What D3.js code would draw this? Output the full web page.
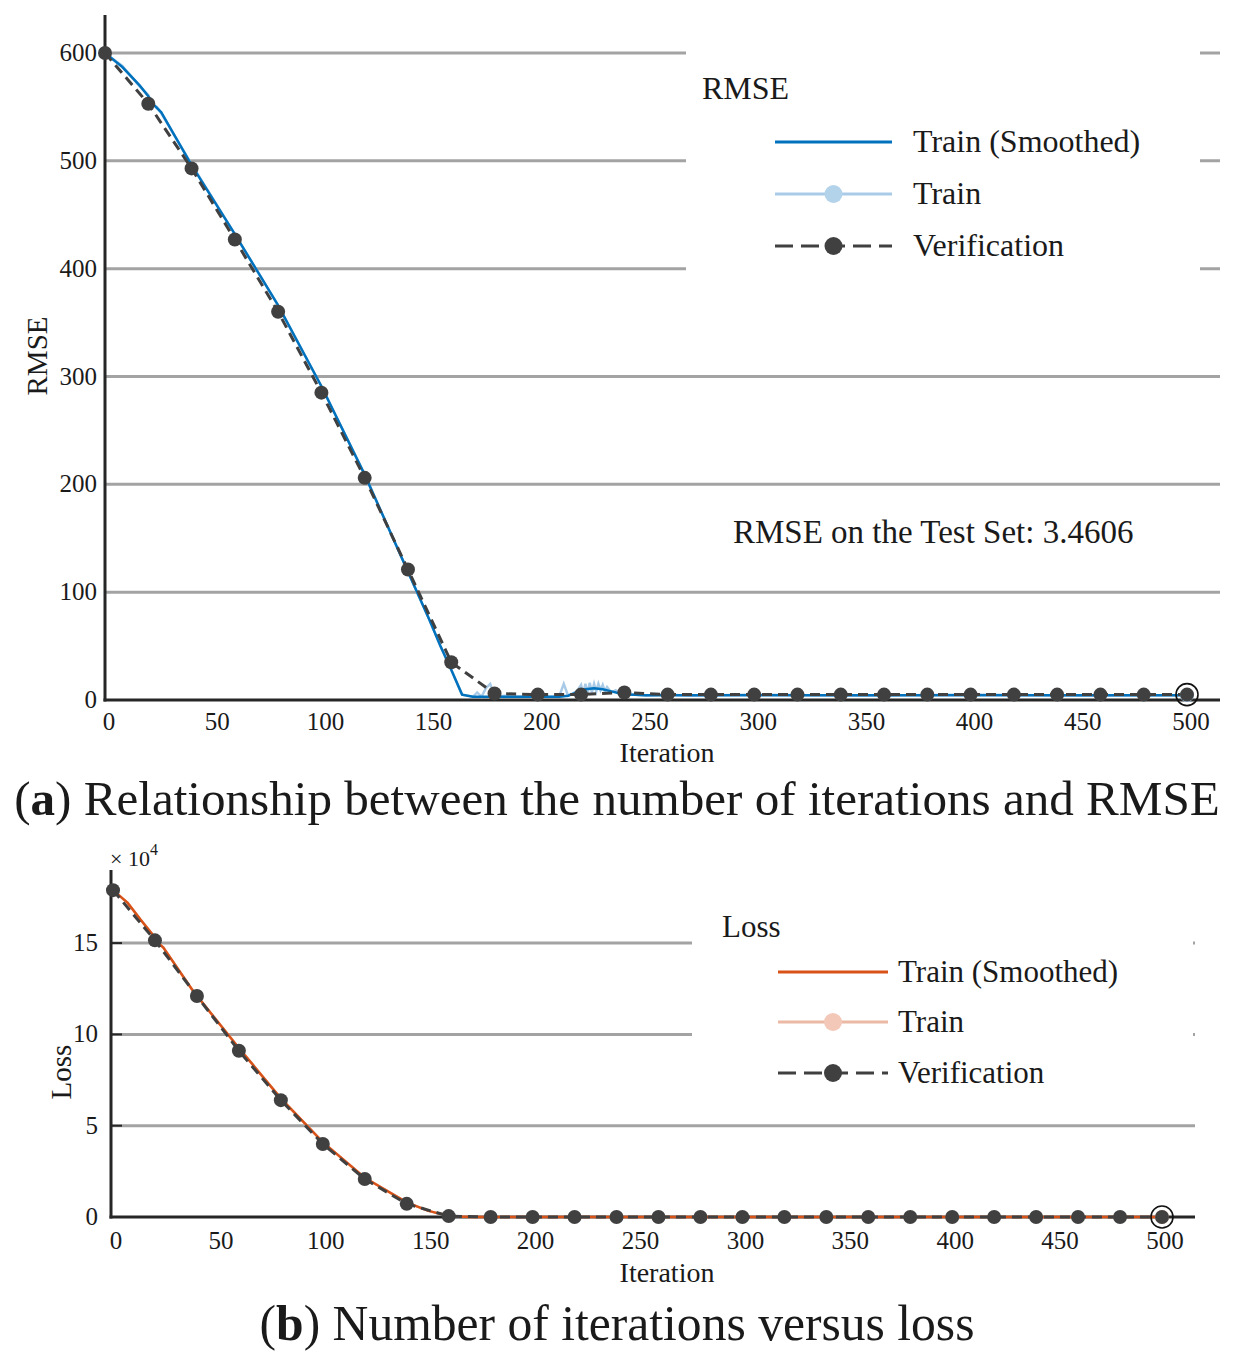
<!DOCTYPE html>
<html><head><meta charset="utf-8">
<script src="https://cdn.jsdelivr.net/npm/d3@7"></script>
<style>body{margin:0;background:#fff}svg{display:block}text{font-family:"Liberation Serif","Times New Roman",serif;fill:#1a1a1a}</style>
</head><body><svg id="c" width="1235" height="1364"></svg>
<script>
// ---------- DATA ----------
const xTicks = [0,50,100,150,200,250,300,350,400,450,500];
const rmseTicks = [0,100,200,300,400,500,600];
const lossTicks = [0,5,10,15];

const verIter = [0,20,40,60,80,100,120,140,160,180,200,220,240,260,280,300,320,340,360,380,400,420,440,460,480,500];
const rmseVer = [600,553,493,427,360,285,206,121,35,6,5,5,7,5,5,5,5,5,5,5,5,5,5,5,5,5];
const lossVer = [17.9,15.15,12.1,9.1,6.4,4.0,2.08,0.72,0.05,0,0,0,0,0,0,0,0,0,0,0,0,0,0,0,0,0];

const rmseSmIter = [0,8,16,20,22,24,26,40,60,80,100,120,140,150,155,160,165,170,200,210,214,218,222,226,230,234,238,242,250,300,400,500];
const rmseSmVal  = [600,587,570,560,553,549,545,496,432,366,291,209,119,74,50,28,5,3,3,3,4,7,10,11,10,8,6,5,4.5,4.5,4.5,4.5];

const rmseTrIter = [0,8,16,20,22,24,26,40,60,80,100,120,140,150,155,160,165,170,172,174,176,178,180,185,190,200,208,210,212,214,218,220,221,222,223,224,225,226,227,228,229,230,231,232,234,236,238,240,250,260,270,300,350,400,450,500];
const rmseTrVal  = [600,588,569,561,552,550,544,497,432,366,291,209,119,74,50,28,5,3,7,3,11,15,3,4,3,3,3,4,15,4,8,14,5,15,6,16,7,15,8,15,9,14,8,12,7,9,5,6,4,5,4,5,4,5,4,4.5];

const lossSmIter = [0,7,13,20,22,24,38,60,80,100,120,140,150,155,160,165,170,500];
const lossSmVal  = [17.9,17.2,16.3,15.3,14.95,14.75,12.4,9.25,6.5,4.1,2.15,0.8,0.35,0.2,0.08,0.03,0,0];
const lossTrIter = lossSmIter;
const lossTrVal  = lossSmVal;

// ---------- DRAW ----------
const svg = d3.select('#c');
const GRID = '#a3a3a3', AX = '#262626', DARK = '#404040';

function panel(o){
  const g = svg.append('g');
  const x = d3.scaleLinear().domain([0,500]).range(o.xr);
  const y = d3.scaleLinear().domain(o.yd).range(o.yr);
  o.yTicks.filter(t=>t>0).forEach(t=>{
    g.append('line').attr('x1',o.axX).attr('x2',o.gridEnd).attr('y1',y(t)).attr('y2',y(t))
     .attr('stroke',GRID).attr('stroke-width',3);
  });
  g.append('rect').attr('x',o.leg.box[0]).attr('y',o.leg.box[1]).attr('width',o.leg.box[2]).attr('height',o.leg.box[3]).attr('fill','#fff');
  g.append('line').attr('x1',o.axX).attr('x2',o.axX).attr('y1',o.axTop).attr('y2',y(0)+1.5).attr('stroke',AX).attr('stroke-width',3);
  g.append('line').attr('x1',o.axX-1.5).attr('x2',o.gridEnd).attr('y1',y(0)).attr('y2',y(0)).attr('stroke',AX).attr('stroke-width',3);
  if(o.tickMarks){
    o.yTicks.filter(t=>t>0).forEach(t=>{
      g.append('line').attr('x1',o.axX).attr('x2',o.axX+11).attr('y1',y(t)).attr('y2',y(t)).attr('stroke',AX).attr('stroke-width',2);
    });
  }
  xTicks.forEach(t=>{
    g.append('text').attr('x',x(t)+o.xLabOff).attr('y',o.xLabY).attr('text-anchor','middle').attr('font-size',25).text(t);
  });
  o.yTicks.forEach(t=>{
    g.append('text').attr('x',o.yLabX).attr('y',y(t)+8).attr('text-anchor','end').attr('font-size',25).text(t);
  });
  g.append('text').attr('x',667).attr('y',o.xTitleY).attr('text-anchor','middle').attr('font-size',28).text('Iteration');
  g.append('text').attr('transform',`translate(${o.yTitleX},${o.yTitleC}) rotate(-90)`).attr('text-anchor','middle').attr('font-size',29).text(o.yTitle);

  const line = d3.line().x(d=>x(d[0])).y(d=>y(d[1]));
  g.append('path').attr('d',line(d3.zip(o.trI,o.trV))).attr('fill','none').attr('stroke',o.light).attr('stroke-width',2.5);
  g.append('path').attr('d',line(d3.zip(o.smI,o.smV))).attr('fill','none').attr('stroke',o.main).attr('stroke-width',2.5);
  g.append('path').attr('d',line(d3.zip(verIter,o.ver))).attr('fill','none').attr('stroke',DARK).attr('stroke-width',3).attr('stroke-dasharray','10,6');
  g.append('circle').attr('cx',x(o.trI[o.trI.length-1])).attr('cy',y(o.trV[o.trV.length-1])).attr('r',7).attr('fill',o.light);
  verIter.forEach((it,i)=>{
    g.append('circle').attr('cx',x(it)).attr('cy',y(o.ver[i])).attr('r',7).attr('fill',DARK);
  });
  g.append('circle').attr('cx',x(500)).attr('cy',y(o.ver[o.ver.length-1])).attr('r',11).attr('fill','none').attr('stroke','#111').attr('stroke-width',1.6);

  const L = o.leg;
  g.append('text').attr('x',L.titleX).attr('y',L.titleY).attr('font-size',L.fs).text(L.title);
  const rows = [
    {lab:'Train (Smoothed)', col:o.main, dash:null, mk:null},
    {lab:'Train', col:o.light, dash:null, mk:o.lightMk},
    {lab:'Verification', col:DARK, dash:'18,8', mk:DARK}
  ];
  rows.forEach((r,i)=>{
    const yy = L.rowY[i];
    g.append('line').attr('x1',L.x1).attr('x2',L.x2).attr('y1',yy).attr('y2',yy).attr('stroke',r.col).attr('stroke-width',3)
      .attr('stroke-dasharray',r.dash);
    if(r.mk) g.append('circle').attr('cx',(L.x1+L.x2)/2).attr('cy',yy).attr('r',9).attr('fill',r.mk);
    g.append('text').attr('x',L.tx).attr('y',yy+10).attr('font-size',L.fs).text(r.lab);
  });
  return {g,x,y};
}

const A = panel({
  xr:[105,1187], yd:[0,600], yr:[700,53], yTicks:rmseTicks, axX:105, axTop:15, gridEnd:1220,
  xLabOff:4, xLabY:730, yLabX:97, xTitleY:762, yTitleX:47, yTitleC:356, yTitle:'RMSE',
  trI:rmseTrIter, trV:rmseTrVal, smI:rmseSmIter, smV:rmseSmVal, ver:rmseVer,
  main:'#0072BD', light:'#a9cbe8', lightMk:'#b3d3ea', tickMarks:false,
  leg:{box:[686,30,514,262], title:'RMSE', titleX:702, titleY:99, fs:32,
       rowY:[142,194,246], x1:775, x2:892, tx:913}
});
A.g.append('text').attr('x',733).attr('y',543).attr('font-size',33).text('RMSE on the Test Set: 3.4606');

const B = panel({
  xr:[113,1162], yd:[0,18], yr:[1217,888.3], yTicks:lossTicks, axX:111, axTop:870, gridEnd:1195,
  xLabOff:3, xLabY:1249, yLabX:98, xTitleY:1282, yTitleX:71, yTitleC:1072, yTitle:'Loss',
  trI:lossTrIter, trV:lossTrVal, smI:lossSmIter, smV:lossSmVal, ver:lossVer,
  main:'#D95319', light:'#ecb9a5', lightMk:'#f3c8b8', tickMarks:true,
  leg:{box:[692,900,501,195], title:'Loss', titleX:722, titleY:937, fs:31,
       rowY:[972,1022,1073], x1:778, x2:888, tx:898}
});
const ex = B.g.append('text').attr('x',110).attr('y',866).attr('font-size',22);
ex.append('tspan').text('× 10');
ex.append('tspan').attr('font-size',16).attr('dy',-11).text('4');

function caption(letter, rest, cx, yb, targetW){
  const t = svg.append('text').attr('x',cx).attr('y',yb).attr('text-anchor','middle').attr('font-size',40);
  t.append('tspan').text('(');
  t.append('tspan').attr('font-weight','bold').text(letter);
  t.append('tspan').text(') '+rest);
  const w = t.node().getComputedTextLength();
  t.attr('font-size', 40*targetW/w);
}
caption('a','Relationship between the number of iterations and RMSE', 617, 815, 1206);
caption('b','Number of iterations versus loss', 617, 1340, 715);
</script></body></html>
